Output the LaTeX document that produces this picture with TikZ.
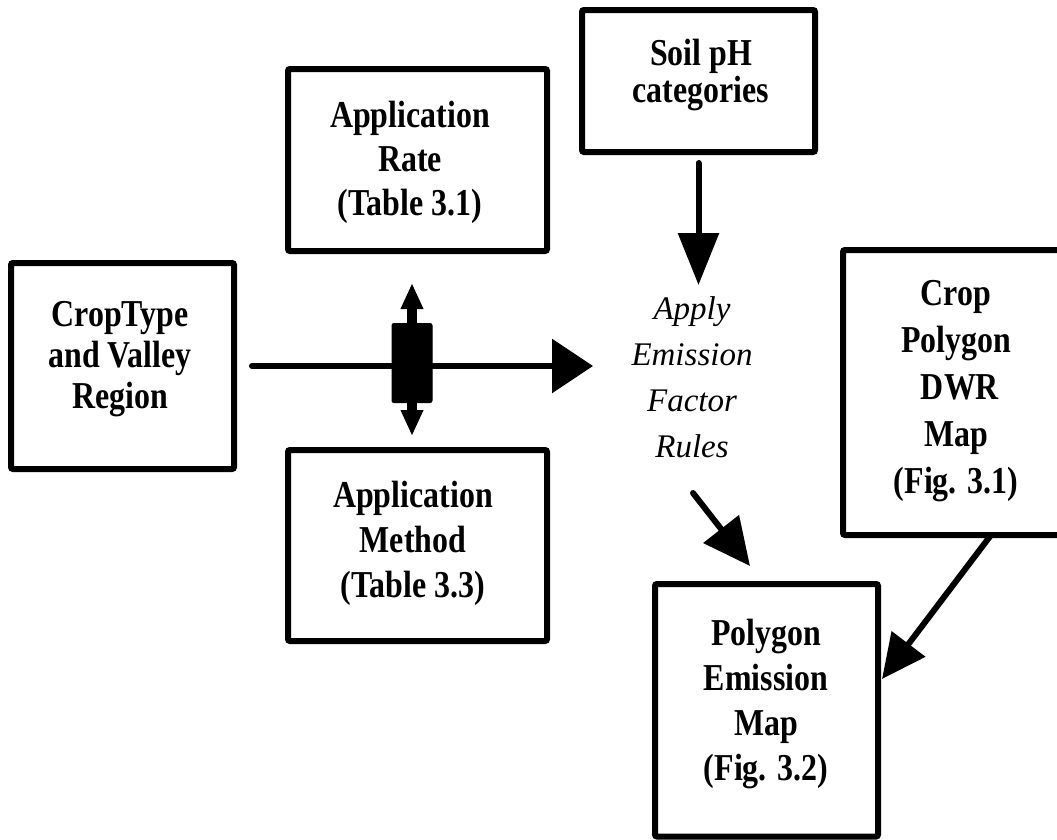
\documentclass[tikz,border=0pt]{standalone}
\usepackage{fontspec}
\setmainfont{Liberation Serif}
\newfontfamily\boxfont{Liberation Serif}[FakeStretch=0.84]
\usetikzlibrary{arrows.meta}

\begin{document}
\begin{tikzpicture}[x=1pt,y=-1pt,
  box/.style={draw, line width=6pt, rounded corners=2pt, outer sep=0pt, inner sep=0pt, rectangle},
  btext/.style={inner sep=0pt, align=center, font=\boxfont\bfseries\fontsize{38}{#1}\selectfont},
  itext/.style={inner sep=0pt, align=center, font=\itshape\fontsize{33}{46}\selectfont},
  conn/.style={line width=6pt, line cap=round},
]
\useasboundingbox (0,0) rectangle (1057,839);
\clip (0,0) rectangle (1057,839);

% boxes
\node[box, minimum width=233pt, minimum height=142pt] (soil) at (698.5,81) {};
\node[box, minimum width=259pt, minimum height=182pt] (rate) at (417.5,160) {};
\node[box, minimum width=223pt, minimum height=206pt] (ct) at (122.5,366) {};
\node[box, minimum width=259pt, minimum height=191pt] (method) at (417.5,545.5) {};
\node[box, minimum width=232pt, minimum height=285pt] (cropPoly) at (959,392.5) {};
\node[box, minimum width=223pt, minimum height=252.5pt] (polyEm) at (766.5,710.25) {};

% texts
\node[btext=37] (soilT) at (701,75.5) {Soil pH\\categories};
\node[btext=44] (rateT) at (410,162) {Application\\Rate\\(Table 3.1)};
\node[btext=41] (ctT) at (120,359) {CropType\\and Valley\\Region};
\node[btext=45] (methT) at (413,543.5) {Application\\Method\\(Table 3.3)};
\node[btext=47] (cpT) at (956,391) {Crop\\Polygon\\~DWR\\Map\\(Fig. 3.1)};
\node[btext=45] (peT) at (766,704) {Polygon\\Emission\\Map\\(Fig. 3.2)};
\node[itext] (apply) at (692,377.5) {Apply\\Emission\\Factor\\Rules};

% valve
\node[fill, draw, line width=1pt, rounded corners=2pt, minimum width=40pt, minimum height=79pt, inner sep=0pt, outer sep=0pt] (valve) at (412,363) {};

% free ends
\coordinate (hTip) at (593,366);
\coordinate (soilTip) at (698.5,285);
\coordinate (d1a) at (693,493);
\coordinate (d1b) at (750,566);
\coordinate (d2a) at (991,535);
\coordinate (d2b) at (882,679);

% connectors
\draw[conn, -{Triangle[length=41pt,width=53pt]}, shorten <=18pt] (ct.east) -- (hTip);
\draw[conn, -{Triangle[length=52pt,width=40pt]}, shorten <=11pt] (soil.south) -- (soilTip);
\draw[line width=10pt, {Triangle[length=26pt,width=21pt]}-{Triangle[length=26pt,width=21pt]}, shorten <=32pt, shorten >=14pt] (valve.center |- rate.south) -- (valve.center |- method.north);
\draw[conn, -{Triangle[length=47pt,width=44pt]}] (d1a) -- (d1b);
\draw[conn, -{Triangle[length=44pt,width=41pt]}] (d2a) -- (d2b);
\end{tikzpicture}
\end{document}
